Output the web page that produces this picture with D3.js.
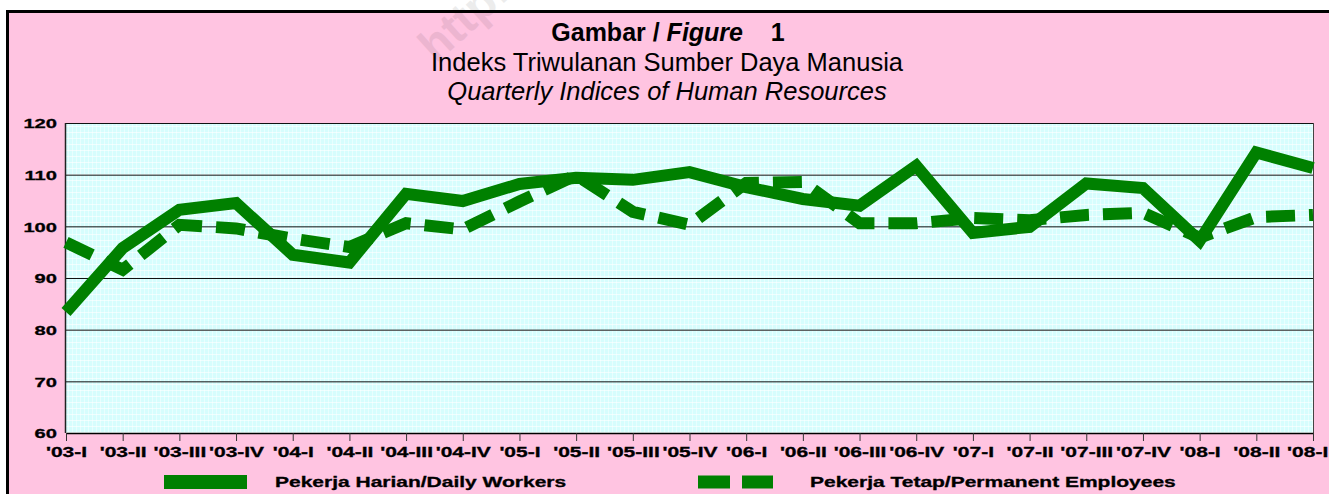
<!DOCTYPE html>
<html lang="en">
  <head>
    <meta charset="UTF-8" />
    <title>Gambar / Figure 1</title>
    <style>
      body { margin: 0; background: #ffffff; }
      svg text { font-family: "Liberation Sans", Arial, sans-serif; }
    </style>
  </head>
  <body>
    <svg id="svg" width="1329" height="494"></svg>
    <script src="https://d3js.org/d3.v7.min.js"></script>
    <script>
      // quarters on the x axis
      const quarters = [
        "'03-I", "'03-II", "'03-III", "'03-IV",
        "'04-I", "'04-II", "'04-III", "'04-IV",
        "'05-I", "'05-II", "'05-III", "'05-IV",
        "'06-I", "'06-II", "'06-III", "'06-IV",
        "'07-I", "'07-II", "'07-III", "'07-IV",
        "'08-I", "'08-II", "'08-III",
      ];

      // Pekerja Harian / Daily Workers
      const dailyWorkers = [
        83.4, 95.8, 103.2, 104.5, 94.5, 93.0, 106.3, 104.9, 108.2, 109.4,
        109.0, 110.5, 107.6, 105.3, 104.0, 111.7, 98.7, 99.9, 108.3, 107.4,
        97.2, 114.3, 111.3,
      ];

      // Pekerja Tetap / Permanent Employees
      const permanentEmployees = [
        96.9, 91.6, 100.3, 99.6, 97.6, 96.0, 100.6, 99.4, 104.8, 109.9,
        102.8, 100.3, 108.4, 108.6, 100.6, 100.6, 101.6, 101.2, 102.2, 102.6,
        97.8, 101.8, 102.2,
      ];

      const yTicks = [60, 70, 80, 90, 100, 110, 120];
      const seriesNames = [
        "Pekerja Harian/Daily Workers",
        "Pekerja Tetap/Permanent Employees",
      ];

      const svgWidth = 1329;
      const svgHeight = 494;
      const plot = { left: 66, right: 1313, top: 123, bottom: 433 };
      const green = "#008000";
      const stretch = 1.5; // the original text is horizontally stretched

      const svg = d3.select("#svg");

      // pink frame with black border (only top and left visible)
      svg.append("rect")
        .attr("x", 7.5).attr("y", 11.5)
        .attr("width", svgWidth + 10).attr("height", svgHeight + 10)
        .attr("fill", "#ffc4e1")
        .attr("stroke", "#000").attr("stroke-width", 3);

      // faint watermark
      svg.append("text")
        .attr("transform", "translate(436,64) rotate(-42)")
        .attr("font-size", 46)
        .attr("font-weight", "bold")
        .attr("fill", "#000")
        .attr("opacity", 0.07)
        .text("http://www.bps.go.id");

      // title
      const title = svg.append("g").attr("text-anchor", "middle");
      const t1 = title.append("text")
        .attr("x", 668).attr("y", 41)
        .attr("font-size", 25).attr("font-weight", "bold");
      t1.append("tspan").text("Gambar / ");
      t1.append("tspan").attr("font-style", "italic").text("Figure");
      t1.append("tspan").text("\u00a0\u00a0\u00a0\u00a01");
      title.append("text")
        .attr("x", 667).attr("y", 71)
        .attr("font-size", 25.5)
        .text("Indeks Triwulanan Sumber Daya Manusia");
      title.append("text")
        .attr("x", 667).attr("y", 100)
        .attr("font-size", 25.5).attr("font-style", "italic")
        .text("Quarterly Indices of Human Resources");

      // scales
      const xScale = d3.scalePoint()
        .domain(quarters)
        .range([plot.left, plot.right]);

      const yScale = d3.scaleLinear()
        .domain([60, 120])
        .range([plot.bottom, plot.top]);

      // plot background with fine white grid texture
      const defs = svg.append("defs");
      const pat = defs.append("pattern")
        .attr("id", "grid")
        .attr("patternUnits", "userSpaceOnUse")
        .attr("width", 4).attr("height", 6);
      pat.append("rect").attr("width", 4).attr("height", 6).attr("fill", "#d6fdfd");
      pat.append("line")
        .attr("x1", 0.5).attr("x2", 0.5).attr("y1", 0).attr("y2", 6)
        .attr("stroke", "#fff").attr("stroke-opacity", 0.45);
      pat.append("line")
        .attr("x1", 0).attr("x2", 4).attr("y1", 0.5).attr("y2", 0.5)
        .attr("stroke", "#fff").attr("stroke-opacity", 0.6);

      svg.append("rect")
        .attr("x", plot.left).attr("y", plot.top)
        .attr("width", plot.right - plot.left)
        .attr("height", plot.bottom - plot.top)
        .attr("fill", "url(#grid)");

      // horizontal gridlines
      svg.append("g")
        .selectAll("line")
        .data(yTicks.slice(1))
        .join("line")
        .attr("x1", plot.left).attr("x2", plot.right)
        .attr("y1", (d) => yScale(d) + 0.5).attr("y2", (d) => yScale(d) + 0.5)
        .attr("stroke", "#111").attr("stroke-width", 1);

      // right border of plot
      svg.append("line")
        .attr("x1", plot.right + 0.5).attr("x2", plot.right + 0.5)
        .attr("y1", plot.top).attr("y2", plot.bottom)
        .attr("stroke", "#444");

      // left axis line
      svg.append("line")
        .attr("x1", plot.left - 0.5).attr("x2", plot.left - 0.5)
        .attr("y1", plot.top).attr("y2", plot.bottom)
        .attr("stroke", "#222").attr("stroke-width", 1.5);

      // y axis
      const yAxis = d3.axisLeft(yScale).tickValues(yTicks).tickSize(0).tickPadding(9);
      const yg = svg.append("g")
        .attr("transform", `translate(${plot.left}, 0)`)
        .call(yAxis);
      yg.select(".domain").remove();
      yg.selectAll("text")
        .attr("font-size", 13)
        .attr("font-weight", "bold")
        .attr("fill", "#000")
        .attr("stroke", "#000").attr("stroke-width", 0.3)
        .attr("font-family", "'Liberation Sans', Arial, sans-serif")
        .attr("x", -9 / 1.55)
        .attr("dy", "0.38em")
        .attr("transform", "scale(1.55,1)");

      // x axis
      const xAxis = d3.axisBottom(xScale).tickSizeInner(8).tickSizeOuter(0).tickPadding(6);
      const xg = svg.append("g")
        .attr("transform", `translate(0, ${plot.bottom})`)
        .call(xAxis);
      xg.select(".domain").attr("stroke", "#000").attr("stroke-width", 1.5);
      xg.selectAll(".tick line").attr("stroke", "#333");
      xg.selectAll("text")
        .attr("font-size", 14)
        .attr("font-weight", "bold")
        .attr("fill", "#000")
        .attr("stroke", "#000").attr("stroke-width", 0.3)
        .attr("font-family", "'Liberation Sans', Arial, sans-serif")
        .attr("transform", `scale(${stretch},1)`);

      // lines
      const line = d3.line()
        .x((d, i) => xScale(quarters[i]))
        .y((d) => yScale(d));

      svg.append("path")
        .datum(dailyWorkers)
        .attr("d", line)
        .attr("fill", "none")
        .attr("stroke", green)
        .attr("stroke-width", 12)
        .attr("stroke-linejoin", "miter")
        .attr("stroke-miterlimit", 3);

      svg.append("path")
        .datum(permanentEmployees)
        .attr("d", line)
        .attr("fill", "none")
        .attr("stroke", green)
        .attr("stroke-width", 12)
        .attr("stroke-dasharray", "29,14")
        .attr("stroke-linejoin", "miter")
        .attr("stroke-miterlimit", 3);

      // legend
      const legend = svg.append("g");
      legend.append("line")
        .attr("x1", 164).attr("x2", 247)
        .attr("y1", 482).attr("y2", 482)
        .attr("stroke", green).attr("stroke-width", 14);
      legend.append("line")
        .attr("x1", 698).attr("x2", 773)
        .attr("y1", 482).attr("y2", 482)
        .attr("stroke", green).attr("stroke-width", 13)
        .attr("stroke-dasharray", "32,12");

      legend.selectAll("text")
        .data(seriesNames)
        .join("text")
        .attr("transform", (d, i) => `translate(${i === 0 ? 275 : 810}, 487) scale(${stretch},1)`)
        .attr("font-size", 14)
        .attr("font-weight", "bold")
        .attr("fill", "#000")
        .attr("stroke", "#000").attr("stroke-width", 0.3)
        .text((d) => d);
    </script>
  </body>
</html>
